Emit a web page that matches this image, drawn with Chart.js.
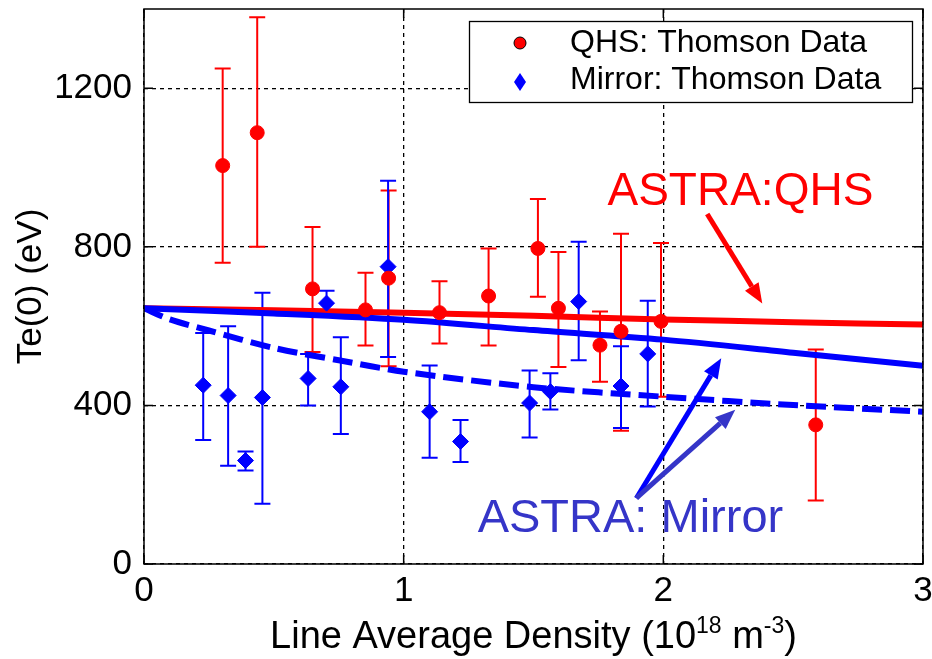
<!DOCTYPE html>
<html>
<head>
<meta charset="utf-8">
<script src="https://cdn.jsdelivr.net/npm/chart.js@4.4.0/dist/chart.umd.min.js"></script>
<style>
  html, body { margin: 0; padding: 0; background: #fff; }
</style>
</head>
<body>
<canvas id="chart" width="932" height="659"></canvas>
<script>
// Te(0) vs line average density, QHS and Mirror

const FONT = '"Liberation Sans", Arial, Helvetica, sans-serif';

// QHS Thomson data (x in 1e18 m^-3, Te in eV)
const qhs_x  = [0.303, 0.436, 0.649, 0.853, 0.942, 1.138, 1.327, 1.517, 1.596, 1.756, 1.837, 1.991, 2.587];
const qhs_y  = [1005, 1088, 694, 641, 721, 634, 676, 796, 645, 552, 587, 612, 351];
const qhs_hi = [1250, 1379, 850, 735, 942, 713, 796, 921, 787, 637, 833, 810, 541];
const qhs_lo = [760, 800, 535, 551, 499, 556, 551, 674, 497, 460, 336, 422, 160];

// Mirror Thomson data
const mir_x  = [0.228, 0.324, 0.391, 0.456, 0.632, 0.703, 0.758, 0.94, 1.1, 1.219, 1.485, 1.565, 1.674, 1.837, 1.94];
const mir_y  = [451, 425, 261, 420, 468, 658, 447, 750, 384, 309, 406, 435, 662, 449, 530];
const mir_hi = [583, 600, 284, 684, 530, 689, 572, 967, 501, 363, 488, 481, 813, 549, 664];
const mir_lo = [313, 248, 236, 152, 400, 630, 328, 522, 268, 257, 319, 390, 514, 343, 397];

// ASTRA model curves
const astra_x = [0, 0.5, 1, 1.5, 2, 2.5, 3];
const astra_qhs = [645, 640, 634, 626, 617, 610, 604];
const astra_mir = [645, 632, 616, 590, 566, 533, 500];
const astra_dash_x = [0, 0.1, 0.25, 0.5, 0.75, 1, 1.5, 2, 2.5, 3];
const astra_dash = [645, 617, 589, 545, 514, 485, 446, 422, 401, 384];

const x_ticks = [0, 1, 2, 3];
const y_ticks = [0, 400, 800, 1200];

// annotation anchors in data units
const qhs_label = {x: 1.785, y: 905, text: 'ASTRA:QHS'};
const qhs_arrow = {x1: 2.169, y1: 883, x2: 2.381, y2: 657};
const mir_label = {x: 1.285, y: 80, text: 'ASTRA: Mirror'};
const mir_arrow1 = {x1: 1.896, y1: 166, x2: 2.223, y2: 519};
const mir_arrow2 = {x1: 1.896, y1: 166, x2: 2.277, y2: 389};

function pts(xs, ys) { return xs.map((x, i) => ({x: x, y: ys[i]})); }

function drawArrow(ctx, x1, y1, x2, y2, color, w) {
    const a = Math.atan2(y2 - y1, x2 - x1);
    const hl = 20, hw = 8;
    const bx = x2 - hl * Math.cos(a), by = y2 - hl * Math.sin(a);
    ctx.strokeStyle = color;
    ctx.fillStyle = color;
    ctx.lineWidth = w;
    ctx.beginPath();
    ctx.moveTo(x1, y1);
    ctx.lineTo(bx, by);
    ctx.stroke();
    ctx.beginPath();
    ctx.moveTo(x2, y2);
    ctx.lineTo(bx + hw * Math.sin(a), by - hw * Math.cos(a));
    ctx.lineTo(bx - hw * Math.sin(a), by + hw * Math.cos(a));
    ctx.closePath();
    ctx.fill();
}

const errorBars = {
    id: 'errorBars',
    beforeDatasetsDraw(chart) {
        const ctx = chart.ctx, xs = chart.scales.x, ys = chart.scales.y;
        const sets = [[qhs_x, qhs_hi, qhs_lo, '#ff0000'], [mir_x, mir_hi, mir_lo, '#0000ff']];
        ctx.save();
        ctx.lineWidth = 2;
        sets.forEach(s => {
            ctx.strokeStyle = s[3];
            s[0].forEach((x, i) => {
                const px = xs.getPixelForValue(x);
                const top = ys.getPixelForValue(s[1][i]);
                const bot = ys.getPixelForValue(s[2][i]);
                ctx.beginPath();
                ctx.moveTo(px, top); ctx.lineTo(px, bot);
                ctx.moveTo(px - 8, top); ctx.lineTo(px + 8, top);
                ctx.moveTo(px - 8, bot); ctx.lineTo(px + 8, bot);
                ctx.stroke();
            });
        });
        ctx.restore();
    }
};

const decorations = {
    id: 'decorations',
    afterDraw(chart) {
        const ctx = chart.ctx, a = chart.chartArea;
        const xs = chart.scales.x, ys = chart.scales.y;
        ctx.save();

        // frame + inward ticks
        ctx.strokeStyle = '#000';
        ctx.lineWidth = 1.5;
        ctx.strokeRect(a.left, a.top, a.right - a.left, a.bottom - a.top);
        ctx.beginPath();
        x_ticks.forEach(v => {
            const p = xs.getPixelForValue(v);
            ctx.moveTo(p, a.bottom); ctx.lineTo(p, a.bottom - 9);
            ctx.moveTo(p, a.top); ctx.lineTo(p, a.top + 9);
        });
        y_ticks.forEach(v => {
            const p = ys.getPixelForValue(v);
            ctx.moveTo(a.left, p); ctx.lineTo(a.left + 9, p);
            ctx.moveTo(a.right, p); ctx.lineTo(a.right - 9, p);
        });
        ctx.stroke();

        // legend
        const lx = a.right - 454, ly = a.top + 12;
        ctx.fillStyle = '#fff';
        ctx.fillRect(lx, ly, 443, 81);
        ctx.lineWidth = 1.3;
        ctx.strokeRect(lx + 0.5, ly + 0.5, 443, 81);
        ctx.fillStyle = '#ff0000';
        ctx.strokeStyle = '#000';
        ctx.lineWidth = 1;
        ctx.beginPath();
        ctx.arc(lx + 51, ly + 22, 6, 0, Math.PI * 2);
        ctx.fill(); ctx.stroke();
        ctx.fillStyle = '#0000ff';
        ctx.beginPath();
        ctx.moveTo(lx + 51, ly + 52); ctx.lineTo(lx + 57, ly + 61);
        ctx.lineTo(lx + 51, ly + 70); ctx.lineTo(lx + 45, ly + 61);
        ctx.closePath();
        ctx.fill();
        ctx.fillStyle = '#000';
        ctx.font = '32px ' + FONT;
        ctx.textBaseline = 'alphabetic';
        ctx.textAlign = 'left';
        ctx.fillText('QHS: Thomson Data', lx + 101, ly + 31);
        ctx.fillText('Mirror: Thomson Data', lx + 101, ly + 68);

        // x-axis title with superscripts
        const big = '38px ' + FONT, sup = '23px ' + FONT;
        const parts = [['Line Average Density (10', big, 0], ['18', sup, -15], [' m', big, 0], ['-3', sup, -15], [')', big, 0]];
        let total = 0;
        parts.forEach(p => { ctx.font = p[1]; total += ctx.measureText(p[0]).width; });
        let tx = (a.left + a.right) / 2 - total / 2;
        const ty = 648;
        parts.forEach(p => {
            ctx.font = p[1];
            ctx.fillText(p[0], tx, ty + p[2]);
            tx += ctx.measureText(p[0]).width;
        });

        // ASTRA annotations
        ctx.font = '46px ' + FONT;
        ctx.fillStyle = '#ff0000';
        ctx.fillText(qhs_label.text, xs.getPixelForValue(qhs_label.x), ys.getPixelForValue(qhs_label.y));
        drawArrow(ctx, xs.getPixelForValue(qhs_arrow.x1), ys.getPixelForValue(qhs_arrow.y1),
            xs.getPixelForValue(qhs_arrow.x2), ys.getPixelForValue(qhs_arrow.y2), '#ff0000', 5);

        ctx.font = '47px ' + FONT;
        ctx.fillStyle = '#3535c8';
        ctx.fillText(mir_label.text, xs.getPixelForValue(mir_label.x), ys.getPixelForValue(mir_label.y));
        drawArrow(ctx, xs.getPixelForValue(mir_arrow1.x1), ys.getPixelForValue(mir_arrow1.y1),
            xs.getPixelForValue(mir_arrow1.x2), ys.getPixelForValue(mir_arrow1.y2), '#0000ff', 5);
        drawArrow(ctx, xs.getPixelForValue(mir_arrow2.x1), ys.getPixelForValue(mir_arrow2.y1),
            xs.getPixelForValue(mir_arrow2.x2), ys.getPixelForValue(mir_arrow2.y2), '#3535c8', 5);

        ctx.restore();
    }
};

const ctx = document.getElementById('chart');
const mychart = new Chart(ctx, {
    type: 'scatter',
    data: {
        datasets: [
            {
                label: 'QHS: Thomson Data',
                data: pts(qhs_x, qhs_y),
                pointStyle: 'circle',
                pointRadius: 7,
                backgroundColor: '#ff0000',
                borderColor: '#ff0000',
                borderWidth: 1,
                order: 1
            },
            {
                label: 'Mirror: Thomson Data',
                data: pts(mir_x, mir_y),
                pointStyle: 'rectRot',
                pointRadius: 8,
                backgroundColor: '#0000ff',
                borderColor: '#0000ff',
                borderWidth: 1,
                order: 2
            },
            {
                label: 'ASTRA:QHS',
                type: 'line',
                data: pts(astra_x, astra_qhs),
                borderColor: '#ff0000',
                borderWidth: 6,
                pointRadius: 0,
                tension: 0.3,
                order: 5
            },
            {
                label: 'ASTRA: Mirror',
                type: 'line',
                data: pts(astra_x, astra_mir),
                borderColor: '#0000ff',
                borderWidth: 6,
                pointRadius: 0,
                tension: 0.3,
                order: 4
            },
            {
                label: 'ASTRA: Mirror (dashed)',
                type: 'line',
                data: pts(astra_dash_x, astra_dash),
                borderColor: '#0000ff',
                borderWidth: 6,
                borderDash: [20, 8],
                pointRadius: 0,
                tension: 0.3,
                order: 3
            }
        ]
    },
    options: {
        responsive: false,
        animation: false,
        layout: {padding: {top: 7, right: 8, left: 0, bottom: 0}},
        plugins: {
            legend: {display: false},
            tooltip: {enabled: false}
        },
        scales: {
            x: {
                type: 'linear',
                min: 0,
                max: 3,
                afterBuildTicks: s => { s.ticks = x_ticks.map(v => ({value: v})); },
                afterFit: s => { s.height = 95; s.paddingLeft = 0; s.paddingRight = 0; },
                ticks: {padding: 6, color: '#000', font: {family: FONT, size: 35}, callback: v => String(v)},
                grid: {color: '#000', lineWidth: 1.3, drawTicks: false},
                border: {display: false, dash: [4, 4]}
            },
            y: {
                type: 'linear',
                min: 0,
                max: 1400,
                afterBuildTicks: s => { s.ticks = y_ticks.map(v => ({value: v})); },
                afterFit: s => { s.width = 144; s.paddingTop = 0; s.paddingBottom = 0; },
                ticks: {padding: 12, color: '#000', font: {family: FONT, size: 35}, callback: v => String(v)},
                grid: {color: '#000', lineWidth: 1.3, drawTicks: false},
                border: {display: false, dash: [4, 4]},
                title: {display: true, text: 'Te(0) (eV)', color: '#000', font: {family: FONT, size: 35}, padding: {top: 10, bottom: 0}}
            }
        }
    },
    plugins: [errorBars, decorations]
});
</script>
</body>
</html>
